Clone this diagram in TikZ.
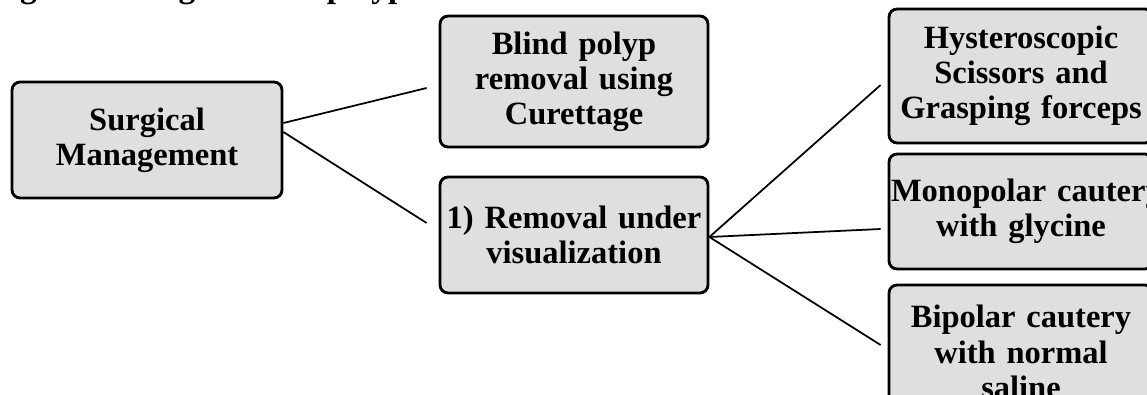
\documentclass[tikz,border=0pt]{standalone}
\usepackage{fontspec}
\setmainfont{Liberation Serif}
\usetikzlibrary{calc}
\definecolor{boxgray}{RGB}{223,223,223}
\tikzset{
  box/.style={draw=black, line width=1.6pt, fill=boxgray, rounded corners=0.16cm,
    align=center, inner sep=0pt, font=\fontsize{18.5}{20}\selectfont\bfseries},
  link/.style={draw=black, line width=1pt}
}
\begin{document}
\begin{tikzpicture}[x=0.02cm,y=-0.02cm]
\useasboundingbox (0,0) rectangle (1147,395);
\clip (0,0) rectangle (1147,395);

\node[anchor=base west, inner sep=0pt, font=\fontsize{19}{20}\selectfont\bfseries] (title) at (-10,-2.5) {Fig. 2: Management of polyp};

\node[box, minimum width=5.4cm, minimum height=2.32cm, text width=5.2cm] (A) at (147,140) {Surgical\\Management};
\node[box, minimum width=5.36cm, minimum height=2.62cm, text width=5.2cm] (B) at (574,81.5) {Blind polyp\\removal using\\Curettage};
\node[box, minimum width=5.36cm, minimum height=2.32cm, text width=5.2cm] (C) at (574,235) {1) Removal under\\visualization};

\node[box, minimum width=5.28cm, minimum height=2.68cm, text width=5.2cm] (D) at (1021,76) {Hysteroscopic\\Scissors and\\Grasping forceps};
\node[box, minimum width=5.28cm, minimum height=2.3cm, text width=5.2cm] (E) at (1021,211.5) {Monopolar~cautery\\with glycine};
\node[box, minimum width=5.28cm, minimum height=2.68cm, text width=5.2cm] (F) at (1021,352) {Bipolar cautery\\with normal\\saline};

\coordinate (c) at ($(C.east)+(0,2)$);

\draw[link] ($(A.east)+(0,-17)$) -- ($(B.west)+(-12,6.5)$);
\draw[link] ($(A.east)+(0,-8)$) -- ($(C.west)+(-12,-12)$);
\draw[link] (c) -- ($(D.west)+(-7,9)$);
\draw[link] (c) -- ($(E.west)+(-7,17.5)$);
\draw[link] (c) -- ($(F.west)+(-7,-7)$);
\end{tikzpicture}
\end{document}
